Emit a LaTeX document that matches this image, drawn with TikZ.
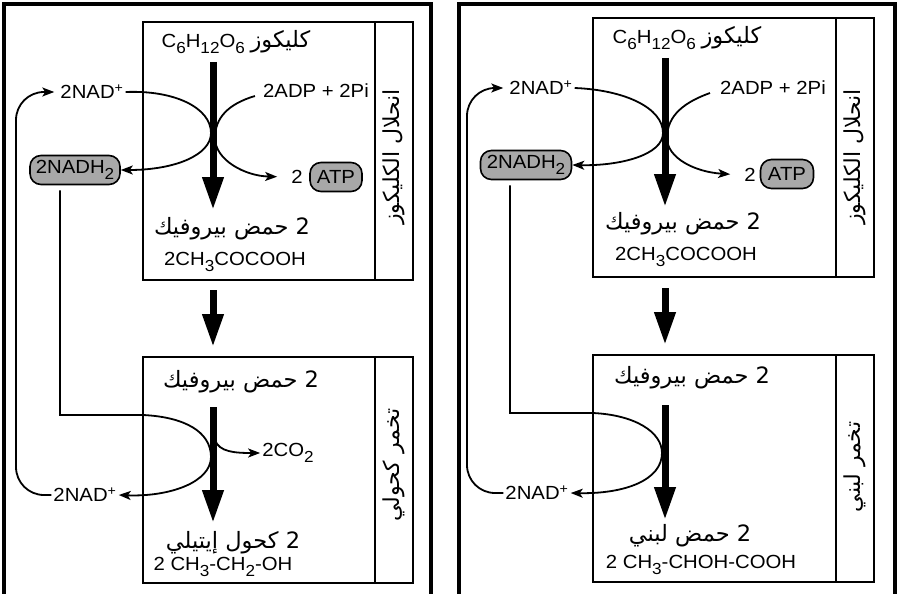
\documentclass[tikz,border=0pt]{standalone}
\usepackage{fontspec}
\setmainfont{Liberation Sans}[FakeStretch=1.07]
\newfontfamily\arabicfont[Script=Arabic]{DejaVu Sans}
\TeXXeTstate=1
\usetikzlibrary{arrows.meta}
\newcommand\ar[1]{{\arabicfont\beginR #1\endR}}
\newcommand\arz[1]{{\arabicfont\fontsize{22.5}{24}\selectfont\beginR #1\endR}}
\newcommand\sbs[1]{\raisebox{-0.28em}{\fontsize{16}{16}\selectfont #1}}
\definecolor{pillgray}{RGB}{168,168,168}
\begin{document}
\begin{tikzpicture}[x=1pt,y=-1pt,
  frame/.style={line width=4pt, line join=miter},
  panel/.style={draw, line width=2pt},
  pill/.style={draw, line width=1.6pt, fill=pillgray, rounded corners=11pt, minimum height=29pt, inner xsep=3pt, font=\fontsize{19}{22}\selectfont},
  bigarrow/.style={line width=7pt, -{Triangle[length=33pt,width=20pt]}},
  conn/.style={line width=1.8pt},
  connarrow/.style={conn, -{Stealth[length=12pt,width=9pt,inset=3pt]}},
  lbl/.style={font=\fontsize{19}{22}\selectfont, inner sep=2pt},
  side/.style={rotate=90, font=\fontsize{22}{23}\selectfont, inner sep=1pt}]
\useasboundingbox (0,0) rectangle (902,594);
\fill[white] (0,0) rectangle (902,594);

% ===== outer frames =====
\draw[frame] (4,600) -- (4,4) -- (431,4) -- (431,600);
\draw[frame] (459,600) -- (459,4) -- (895,4) -- (895,600);

% ===== LEFT PANEL =====
\draw[panel] (143,22) rectangle (413,280);
\draw[panel] (375,22) -- (375,280);
\draw[panel] (143,357) rectangle (413,583);
\draw[panel] (375,357) -- (375,583);

\node[lbl] (gluL) at (236,42) {C\sbs{6}H\sbs{12}O\sbs{6} \arz{كليكوز}};
\node[lbl] (nadAL) at (92,92) {2NAD\textsuperscript{+}};
\node[lbl] (adpL) at (316,91) {2ADP + 2Pi};
\node[pill, minimum width=90pt] (nadhL) at (75,170) {2NADH\sbs{2}};
\node[lbl] (twoL) at (297,177) {2};
\node[pill, minimum width=52pt] (atpL) at (336,177) {ATP};
\node[lbl] (pyrL) at (232,229) {\arz{2 حمض بيروفيك}};
\node[lbl] (fL) at (235,262) {2CH\sbs{3}COCOOH};
\node[lbl] (pyr2L) at (241,382) {\arz{2 حمض بيروفيك}};
\node[lbl] (co2L) at (288,453) {2CO\sbs{2}};
\node[lbl] (nadBL) at (85,495) {2NAD\textsuperscript{+}};
\node[lbl] (ethL) at (233,543) {\arz{2 كحول إيتيلي}};
\node[lbl] (f2L) at (223,567) {2 CH\sbs{3}-CH\sbs{2}-OH};
\node[side] (s1L) at (394,157) {\ar{انحلال الكليكوز}};
\node[side] (s2L) at (394,465) {\ar{تخمر كحولي}};

\coordinate (xAL) at (211,133);
\coordinate (xBL) at (215,138);
\coordinate (xCL) at (211,457);
\coordinate (kL) at (143,415);
\coordinate (cL) at (215,440);
\coordinate (loopL) at (16,300);

\draw[connarrow] (nadAL.east) .. controls (175,90) and (211,108) .. (xAL) .. controls (211,155) and (175,170) .. (nadhL.east);
\draw[connarrow, shorten >=12pt] ([shift={(-6,5)}]adpL.west) .. controls (228,104) and (215,118) .. (xBL) .. controls (215,160) and (245,176) .. (twoL.west);
\draw[connarrow, rounded corners=28pt, shorten >=4pt] (nadBL.west) -| (loopL) |- (nadAL.west);
\draw[connarrow] ([xshift=-15pt,yshift=-5pt]nadhL.south) |- (kL) .. controls (185,417) and (211,432) .. (xCL) .. controls (211,482) and (170,497) .. (nadBL.east);
\draw[connarrow] (cL) .. controls (219,452) and (235,453) .. (co2L.west);

\coordinate (a1L) at (213,62);  \coordinate (b1L) at (213,210);
\coordinate (a2L) at (213,290); \coordinate (b2L) at (213,347);
\coordinate (a3L) at (213,407); \coordinate (b3L) at (213,523);
\draw[bigarrow] (a1L) -- (b1L);
\draw[bigarrow] (a2L) -- (b2L);
\draw[bigarrow] (a3L) -- (b3L);

% ===== RIGHT PANEL =====
\draw[panel] (593,18) rectangle (874,277);
\draw[panel] (836,18) -- (836,277);
\draw[panel] (593,355) rectangle (874,582);
\draw[panel] (836,355) -- (836,582);

\node[lbl] (gluR) at (687,38) {C\sbs{6}H\sbs{12}O\sbs{6} \arz{كليكوز}};
\node[lbl] (nadAR) at (541,88) {2NAD\textsuperscript{+}};
\node[lbl] (adpR) at (773,88) {2ADP + 2Pi};
\node[pill, minimum width=91pt] (nadhR) at (526,165) {2NADH\sbs{2}};
\node[lbl] (twoR) at (750,175) {2};
\node[pill, minimum width=53pt] (atpR) at (787,174) {ATP};
\node[lbl] (pyrR) at (683,224) {\arz{2 حمض بيروفيك}};
\node[lbl] (fR) at (686,257) {2CH\sbs{3}COCOOH};
\node[lbl] (pyr2R) at (692,378) {\arz{2 حمض بيروفيك}};
\node[lbl] (nadBR) at (537,493) {2NAD\textsuperscript{+}};
\node[lbl] (lacR) at (690,536) {\arz{2 حمض لبني}};
\node[lbl] (f3R) at (701,565) {2 CH\sbs{3}-CHOH-COOH};
\node[side] (s1R) at (855,157) {\ar{انحلال الكليكوز}};
\node[side] (s2R) at (855,467) {\ar{تخمر لبني}};

\coordinate (xAR) at (663,133);
\coordinate (xBR) at (667,138);
\coordinate (xCR) at (662,453);
\coordinate (kR) at (593,413);
\coordinate (loopR) at (467,300);

\draw[connarrow] (nadAR.east) .. controls (625,90) and (663,108) .. (xAR) .. controls (663,155) and (620,166) .. (nadhR.east);
\draw[connarrow, shorten >=12pt] ([shift={(-8,5)}]adpR.west) .. controls (685,102) and (667,115) .. (xBR) .. controls (667,158) and (695,172) .. (twoR.west);
\draw[connarrow, rounded corners=28pt, shorten >=4pt] (nadBR.west) -| (loopR) |- (nadAR.west);
\draw[connarrow] ([xshift=-16pt,yshift=-5pt]nadhR.south) |- (kR) .. controls (635,415) and (662,432) .. (xCR) .. controls (662,480) and (625,494) .. (nadBR.east);

\coordinate (a1R) at (665,58);  \coordinate (b1R) at (665,207);
\coordinate (a2R) at (665,288); \coordinate (b2R) at (665,345);
\coordinate (a3R) at (665,405); \coordinate (b3R) at (665,520);
\draw[bigarrow] (a1R) -- (b1R);
\draw[bigarrow] (a2R) -- (b2R);
\draw[bigarrow] (a3R) -- (b3R);
\end{tikzpicture}
\end{document}
